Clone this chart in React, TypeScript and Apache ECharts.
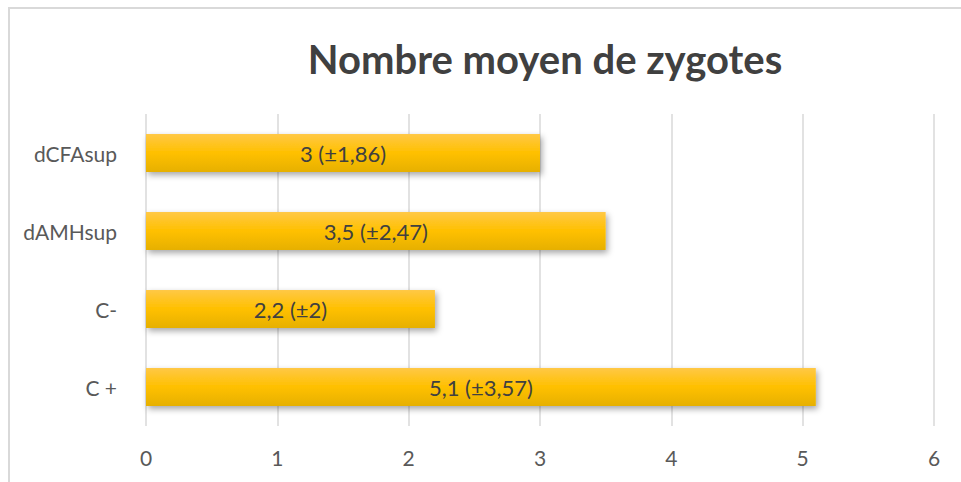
import React, { useEffect, useRef } from "react";
import * as echarts from "echarts";

const categories = ["C +", "C-", "dAMHsup", "dCFAsup"];
const means = [5.1, 2.2, 3.5, 3];
const sds = ["3,57", "2", "2,47", "1,86"];
const meanLabels = ["5,1", "2,2", "3,5", "3"];
const xTicks = { min: 0, max: 6, interval: 1 };

export default function App() {
  const ref = useRef<HTMLDivElement>(null);
  useEffect(() => {
    if (!ref.current) return;
    const chart = echarts.init(ref.current, null, { renderer: "svg" });
    chart.setOption({
      animation: false,
      backgroundColor: "#ffffff",
      title: {
        text: "Nombre moyen de zygotes",
        left: 540,
        textAlign: "center",
        top: 34,
        textStyle: { fontFamily: "Lato", fontWeight: "bold", fontSize: 40, color: "#404040" },
      },
      graphic: [
        {
          type: "rect",
          shape: { x: 9, y: 8, width: 1000, height: 1000 },
          style: { fill: "none", stroke: "#d9d9d9", lineWidth: 2 },
          silent: true,
        },
      ],
      grid: { left: 146, right: 27, top: 114, bottom: 56 },
      xAxis: {
        type: "value",
        min: xTicks.min,
        max: xTicks.max,
        interval: xTicks.interval,
        axisLine: { show: false },
        axisTick: { show: false },
        splitLine: { show: true, lineStyle: { color: "#d9d9d9", width: 1.5 } },
        axisLabel: { color: "#595959", fontSize: 21, fontFamily: "Lato", margin: 21 },
      },
      yAxis: {
        type: "category",
        data: categories,
        axisLine: { show: false },
        axisTick: { show: false },
        axisLabel: { color: "#595959", fontSize: 21, fontFamily: "Lato", margin: 29 },
      },
      series: [
        {
          type: "bar",
          data: means,
          barWidth: 38,
          itemStyle: {
            color: new echarts.graphic.LinearGradient(0, 0, 0, 1, [
              { offset: 0, color: "#ffc846" },
              { offset: 0.5, color: "#ffc000" },
              { offset: 1, color: "#e6b000" },
            ]),
            shadowBlur: 6,
            shadowOffsetX: 2,
            shadowOffsetY: 3,
            shadowColor: "rgba(0,0,0,0.35)",
          },
          label: {
            show: true,
            position: "inside",
            color: "#404040",
            fontSize: 22,
            fontFamily: "Lato",
            formatter: (p: any) => `${meanLabels[p.dataIndex]} (±${sds[p.dataIndex]})`,
          },
        },
      ],
    });
    return () => chart.dispose();
  }, []);
  return (
    <div style={{ position: "absolute", left: 0, top: 0, width: 961, height: 482 }}>
      <div ref={ref} style={{ width: 961, height: 482 }} />
    </div>
  );
}
